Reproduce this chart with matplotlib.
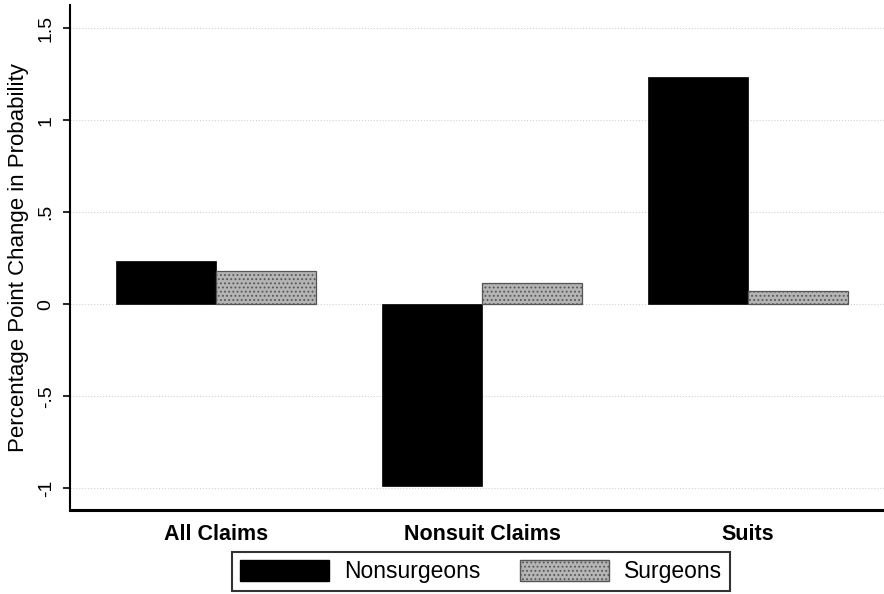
import matplotlib
matplotlib.use("Agg")
import matplotlib.pyplot as plt
import numpy as np
from matplotlib.patches import Patch

categories = ["All Claims", "Nonsuit Claims", "Suits"]
nonsurgeons = [0.237, -0.987, 1.237]
surgeons = [0.183, 0.117, 0.074]
series_names = ["Nonsurgeons", "Surgeons"]
yticks = [-1, -0.5, 0, 0.5, 1, 1.5]
ytick_labels = ["-1", "-.5", "0", ".5", "1", "1.5"]

plt.rcParams['font.family'] = ['Liberation Sans', 'DejaVu Sans']
plt.rcParams['hatch.color'] = '#7d7d7d'
plt.rcParams['hatch.linewidth'] = 0.8

fig = plt.figure(figsize=(8.84, 5.94), dpi=100)
ax = fig.add_axes([70/884, 1-510/594, 814/884, 505/594])

x = np.arange(len(categories))
w = 0.376
ax.bar(x - w/2, nonsurgeons, width=w, color="black", edgecolor="black", linewidth=0.5, zorder=3)
ax.bar(x + w/2, surgeons, width=w, facecolor="#b4b4b4", edgecolor="#555555",
       hatch="....", linewidth=0.9, zorder=3)

ax.set_xlim(-0.549, 2.511)
ax.set_ylim(-1.118, 1.627)

ax.set_yticks(yticks)
ax.set_yticklabels(ytick_labels, rotation=90, va="center", fontsize=14)
ax.tick_params(axis="y", length=5, width=1.2, pad=6, color="black")
ax.set_xticks(x)
ax.set_xticklabels(categories, fontsize=15.5, fontweight="bold")
ax.tick_params(axis="x", length=0, pad=10)

for yv in yticks:
    ax.axhline(yv, color="#d2d2d2", linestyle=":", linewidth=0.8, zorder=1)

for s in ["top", "right"]:
    ax.spines[s].set_visible(False)
ax.spines["left"].set_linewidth(1.5)
ax.spines["bottom"].set_linewidth(2.2)

ax.set_ylabel("Percentage Point Change in Probability", fontsize=16)
ax.yaxis.set_label_coords(-0.05, 0.5)

handles = [Patch(facecolor="black", edgecolor="black"),
           Patch(facecolor="#b4b4b4", edgecolor="#555555", hatch="....")]
leg = fig.legend(handles, series_names, loc="upper center", ncol=2,
                 bbox_to_anchor=(481/884, 1-552/594), fontsize=16.5,
                 frameon=True, fancybox=False, edgecolor="black",
                 handlelength=3.9, handleheight=1.0, handletextpad=0.65,
                 columnspacing=1.7, borderpad=0.35, borderaxespad=0)
leg.get_frame().set_linewidth(1.5)

fig.savefig("out.png", dpi=100, facecolor="white")
